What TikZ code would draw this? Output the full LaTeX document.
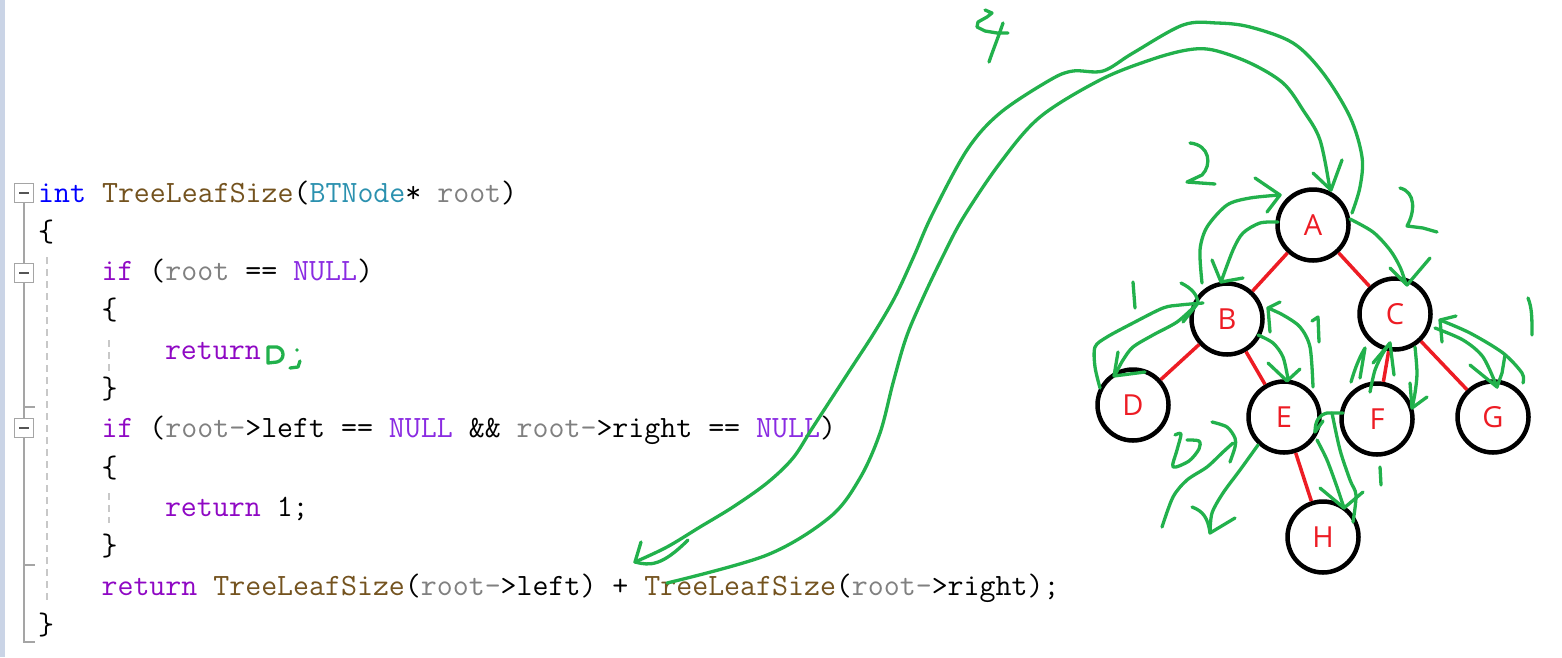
\documentclass[tikz,border=0pt]{standalone}
\usepackage{fontspec}
\newfontfamily\lblfont{Open Sans}
\definecolor{pgreen}{HTML}{22B14C}
\definecolor{pred}{HTML}{ED1C24}
\definecolor{ckw}{HTML}{8F08C4}
\definecolor{cint}{HTML}{0000FF}
\definecolor{cfun}{HTML}{74531F}
\definecolor{ctype}{HTML}{2B91AF}
\definecolor{cpar}{HTML}{808080}
\definecolor{cmac}{HTML}{8A2BE2}
\definecolor{gutter}{HTML}{CAD4E6}
\definecolor{foldln}{HTML}{A5A5A5}
\definecolor{guide}{HTML}{C8C8C8}
\definecolor{foldmk}{HTML}{555555}
\begin{document}
\begin{tikzpicture}[x=1pt,y=-1pt,
  code/.style={anchor=base west, inner sep=0pt, font=\ttfamily\fontsize{31}{36}\selectfont, text=black},
  tnode/.style={circle, draw=black, line width=4.5pt, minimum size=71pt, inner sep=0pt, text=pred, font=\lblfont\fontsize{29}{29}\selectfont},
  redge/.style={draw=pred, line width=3.5pt},
  gstroke/.style={draw=pgreen, line width=3.3pt, line cap=round, line join=round},
  foldbox/.style={rectangle, draw=foldln, fill=white, line width=1.5pt, minimum size=19pt, inner sep=0pt,
    path picture={\draw[foldmk, line width=2.5pt] ([xshift=-5pt]path picture bounding box.center) -- ([xshift=5pt]path picture bounding box.center);}},
  guideline/.style={draw=guide, line width=2pt, dash pattern=on 7pt off 5pt},
  foldline/.style={draw=foldln, line width=2pt}]

\fill[white] (0,0) rectangle (1562,657);
\useasboundingbox (0,0) rectangle (1562,657);
\fill[gutter] (0,0) rectangle (5,657);

% ---------- editor gutter ----------
\node[foldbox] (f1) at (24,193) {};
\node[foldbox] (f2) at (24,273) {};
\node[foldbox] (f3) at (24,428) {};
\coordinate (t1) at (24,407);
\coordinate (t2) at (24,565);
\coordinate (t3) at (24,642);
\draw[foldline] (f1.south) -- (f2.north);
\draw[foldline] (f2.south) -- (f3.north);
\draw[foldline] (f3.south) -- (t3) -- ++(11,0);
\draw[foldline] (t1) -- ++(11,0);
\draw[foldline] (t2) -- ++(11,0);
\draw[guideline] (47,257) -- (47,603);
\draw[guideline] (109,340) -- (109,372);
\draw[guideline] (109,493) -- (109,523);

% ---------- code ----------
\node[code] (l1) at (38,202) {\textcolor{cint}{int} \textcolor{cfun}{TreeLeafSize}(\textcolor{ctype}{BTNode}* \textcolor{cpar}{root})};
\node[code] (l2) at (38,241.3) {\{};
\node[code] (l3) at (101.4,280.6) {\textcolor{ckw}{if} (\textcolor{cpar}{root} == \textcolor{cmac}{NULL})};
\node[code] (l4) at (101.4,319.9) {\{};
\node[code] (l5) at (164.8,359.2) {\textcolor{ckw}{return}};
\node[code] (l6) at (101.4,398.5) {\}};
\node[code] (l7) at (101.4,437.8) {\textcolor{ckw}{if} (\textcolor{cpar}{root-}>left == \textcolor{cmac}{NULL} \&\& \textcolor{cpar}{root-}>right == \textcolor{cmac}{NULL})};
\node[code] (l8) at (101.4,477.1) {\{};
\node[code] (l9) at (164.8,516.4) {\textcolor{ckw}{return} 1;};
\node[code] (l10) at (101.4,555.7) {\}};
\node[code] (l11) at (101.4,595) {\textcolor{ckw}{return} \textcolor{cfun}{TreeLeafSize}(\textcolor{cpar}{root-}>left) + \textcolor{cfun}{TreeLeafSize}(\textcolor{cpar}{root-}>right);};
\node[code] (l12) at (38,634.3) {\}};

% handwritten "D;" after return
\draw[gstroke] (268,347) -- (268,363) -- (277,362) .. controls (285,360) and (285,349) .. (277,347) -- cycle;
\fill[pgreen] (297,350) circle (1.9pt);
\draw[gstroke] (290,368) -- (298,367) -- (300,361);

% ---------- tree ----------
\node[tnode] (A) at (1313,225) {A};
\node[tnode] (B) at (1227,319) {B};
\node[tnode] (C) at (1395,314) {C};
\node[tnode] (D) at (1133,405) {D};
\node[tnode] (E) at (1284,417) {E};
\node[tnode] (F) at (1377,419) {F};
\node[tnode] (G) at (1493,417) {G};
\node[tnode] (H) at (1323,537) {H};
\draw[redge] (A) -- (B);
\draw[redge] (A) -- (C);
\draw[redge] (B) -- (D);
\draw[redge] (B) -- (E);
\draw[redge] (C) -- (F);
\draw[redge] (C) -- (G);
\draw[redge] (E) -- (H);

% ---------- green annotations ----------
% big loop: right call -> A
\draw[gstroke] plot[smooth, tension=0.55] coordinates {(667,583) (767,555) (830,517) (860,478) (880,433) (893,383) (906,338) (922,300) (942,258) (963,218) (1000,163) (1040,117) (1100,80) (1150,60) (1187,50) (1213,50) (1250,63) (1283,83) (1303,110) (1320,140) (1330,190)};
\draw[gstroke] (1313,173) -- (1331,190) -- (1342,160);
% big loop: A -> left call
\draw[gstroke] plot[smooth, tension=0.55] coordinates {(1352,213) (1360,187) (1362,157) (1350,117) (1323,73) (1293,43) (1250,27) (1217,23) (1183,25) (1133,53) (1103,71) (1073,71) (1050,80) (1000,113) (967,150) (932,215) (914,256) (895,297) (874,333) (850,370) (813,427) (793,458) (767,483) (733,507) (700,527) (667,547) (635,562)};
\draw[gstroke] (641,542) -- (635,562) .. controls (650,566) and (662,566) .. (688,540);
% "4"
\draw[gstroke] (985,10) -- (992,13) -- (987,17) -- (978,22) -- (977,27) -- (985,31) -- (997,33) -- (1008,33);
\draw[gstroke] (1003,23) .. controls (998,38) and (993,50) .. (989,62);
% "2" left of A
\draw[gstroke] (1190,143) .. controls (1210,145) and (1212,165) .. (1202,175) -- (1187,182) -- (1215,184);
% "2" right of A
\draw[gstroke] (1400,188) .. controls (1416,192) and (1415,212) .. (1407,226) -- (1423,228) -- (1437,232);

% B -> A
\draw[gstroke] plot[smooth] coordinates {(1202,283) (1200,250) (1207,227) (1227,205) (1250,198) (1280,195)};
\draw[gstroke] (1255,178) -- (1280,195) -- (1267,212);
% A -> B
\draw[gstroke] plot[smooth] coordinates {(1278,222) (1260,223) (1243,233) (1233,250) (1221,282)};
\draw[gstroke] (1212,260) -- (1221,282) -- (1243,278);
% A -> C
\draw[gstroke] plot[smooth] coordinates {(1350,219) (1373,232) (1390,250) (1400,267) (1406,284)};
\draw[gstroke] (1390,268) -- (1407,285) -- (1430,258);

% D -> B
\draw[gstroke] plot[smooth] coordinates {(1100,388) (1095,367) (1095,347) (1107,337) (1133,323) (1163,308) (1180,305) (1203,303)};
\draw[gstroke] (1181,283) .. controls (1193,289) and (1197,295) .. (1198,303) -- (1183,322);
% B -> D
\draw[gstroke] plot[smooth] coordinates {(1195,306) (1177,322) (1153,335) (1133,347) (1123,360) (1115,375)};
\draw[gstroke] (1118,352) -- (1114,376) -- (1145,372);
% "1" near D
\draw[gstroke] (1133,282) -- (1135,308);

% B -> E
\draw[gstroke] plot[smooth] coordinates {(1258,335) (1273,343) (1283,357) (1288,379)};
\draw[gstroke] (1268,363) -- (1287,381) -- (1300,369);
% E -> B
\draw[gstroke] plot[smooth] coordinates {(1313,387) (1310,347) (1300,327) (1283,315) (1268,308)};
\draw[gstroke] (1280,302) -- (1268,308) -- (1270,332);
% "1" between B and E
\draw[gstroke] (1312,321) -- (1318,317) -- (1319,342);

% F -> E hook
\draw[gstroke] (1343,413) -- (1327,413) .. controls (1319,415) and (1315,421) .. (1315,432);
\draw[gstroke] (1315,432) -- (1323,421);
% E -> H
\draw[gstroke] plot[smooth] coordinates {(1317,440) (1327,460) (1337,487) (1344,508)};
\draw[gstroke] (1320,488) -- (1344,508) -- (1363,492);
% F -> H
\draw[gstroke] plot[smooth] coordinates {(1332,413) (1340,450) (1350,480) (1356,495) (1353,522)};
% "1" below F
\draw[gstroke] (1380,467) -- (1381,485);

% E -> down-left
\draw[gstroke] plot[smooth] coordinates {(1258,445) (1240,470) (1223,493) (1212,513) (1210,533)};
\draw[gstroke] (1192,507) .. controls (1203,511) and (1208,518) .. (1210,533) -- (1235,518);
% bounce back up
\draw[gstroke] plot[smooth] coordinates {(1162,527) (1173,497) (1187,480) (1207,467) (1223,452) (1233,443)};
\draw[gstroke] plot[smooth] coordinates {(1212,422) (1227,427) (1235,438) (1235,447) (1230,462)};
% "D"-shaped zero
\draw[gstroke] plot[smooth] coordinates {(1175,435) (1181,434) (1177,450) (1173,467) (1189,461) (1199,449) (1199,441) (1187,440)};

% F -> C
\draw[gstroke] plot[smooth] coordinates {(1370,392) (1375,370) (1383,353) (1390,343)};
\draw[gstroke] (1373,363) -- (1390,343) -- (1394,375);
\draw[gstroke] (1351,382) .. controls (1355,368) and (1360,356) .. (1365,348) -- (1360,378);
% C -> F
\draw[gstroke] plot[smooth] coordinates {(1415,347) (1417,373) (1415,393) (1412,408)};
\draw[gstroke] (1410,383) -- (1412,408) -- (1427,397);

% C -> G
\draw[gstroke] plot[smooth] coordinates {(1435,328) (1463,340) (1483,357) (1497,387)};
\draw[gstroke] (1470,365) -- (1497,387) -- (1502,373) -- (1505,355);
% G -> C
\draw[gstroke] plot[smooth] coordinates {(1523,383) (1522,373) (1503,353) (1470,333) (1440,320)};
\draw[gstroke] (1456,316) -- (1440,320) -- (1442,342);
% "1" right of G
\draw[gstroke] (1528,298) .. controls (1532,308) and (1532,318) .. (1532,335);

\end{tikzpicture}
\end{document}
